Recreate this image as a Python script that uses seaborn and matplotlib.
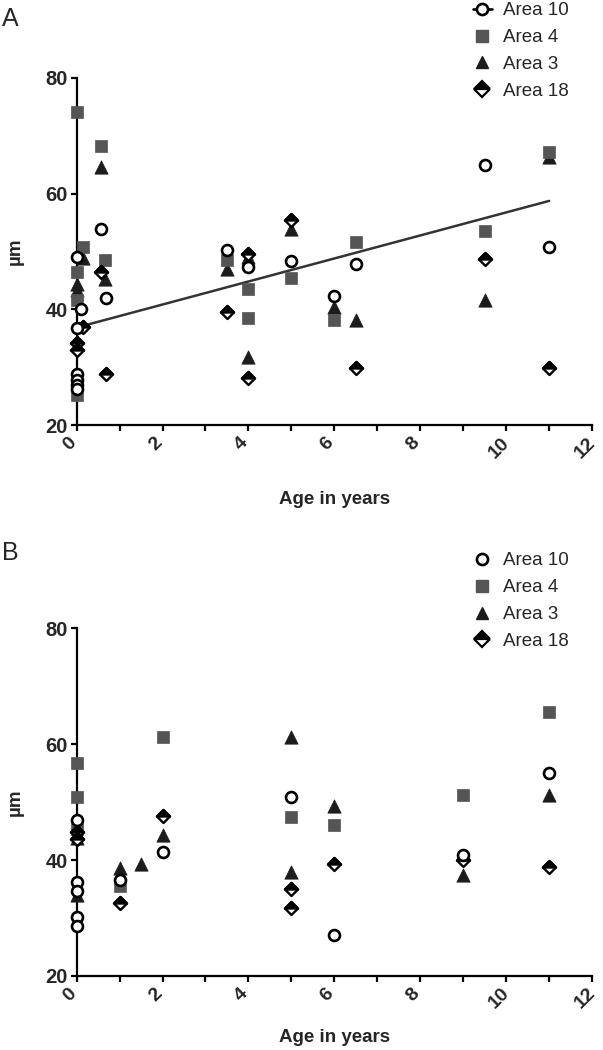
import numpy as np
import pandas as pd
import matplotlib
matplotlib.use("Agg")
import matplotlib.pyplot as plt
import matplotlib.transforms as mtransforms
from matplotlib.lines import Line2D
from matplotlib.path import Path
from matplotlib.ticker import MultipleLocator
import seaborn as sns

sns.set_theme(style="ticks")
plt.rcParams["font.family"] = ["Liberation Sans", "DejaVu Sans"]

# ---- Panel A values ----
a_area10_x = [0, 0.1, 0, 0, 0, 0, 0, 0.58, 0.68, 3.5, 4, 5, 6, 6.5, 9.5, 11]
a_area10_y = [49.0, 40.0, 36.8, 28.9, 27.8, 26.9, 26.2, 53.8, 41.9, 50.2, 47.3, 48.3, 42.3, 47.9, 65.0, 50.7]
a_area4_x = [0, 0.15, 0, 0, 0, 0.56, 0.66, 3.5, 4, 4, 5, 6, 6.5, 9.5, 11]
a_area4_y = [74.0, 50.7, 46.4, 41.6, 25.3, 68.2, 48.6, 48.6, 43.6, 38.6, 45.4, 38.2, 51.7, 53.6, 67.1]
a_area3_x = [0.15, 0, 0, 0.56, 0.66, 3.5, 4, 4, 5, 6, 6.5, 9.5, 11]
a_area3_y = [48.8, 44.4, 43.3, 64.5, 45.2, 47.0, 49.0, 31.8, 53.9, 40.4, 38.1, 41.6, 66.3]
a_area18_x = [0.15, 0, 0, 0.56, 0.68, 3.5, 4, 4, 5, 6.5, 9.5, 11]
a_area18_y = [37.0, 34.2, 33.0, 46.4, 28.8, 39.5, 49.6, 28.2, 55.5, 29.8, 48.7, 29.9]

# ---- Panel B values ----
b_area10_x = [0, 0, 0, 0, 0, 1, 2, 5, 6, 9, 11]
b_area10_y = [46.9, 36.2, 34.6, 30.2, 28.7, 36.6, 41.4, 50.9, 27.1, 40.9, 55.1]
b_area4_x = [0, 0, 0, 1, 2, 5, 6, 9, 11]
b_area4_y = [56.8, 50.9, 45.3, 35.5, 61.2, 47.5, 46.0, 51.2, 65.5]
b_area3_x = [0, 0, 0, 1, 1.5, 2, 5, 5, 6, 9, 11]
b_area3_y = [44.6, 43.8, 34.0, 38.6, 39.4, 44.3, 61.2, 38.0, 49.3, 37.4, 51.2]
b_area18_x = [0, 0, 1, 2, 5, 5, 6, 9, 11]
b_area18_y = [44.8, 43.6, 32.6, 47.6, 35.1, 31.8, 39.3, 40.0, 38.8]

AREAS = ["Area 10", "Area 4", "Area 3", "Area 18"]
X_TICKS = [0, 2, 4, 6, 8, 10, 12]
Y_TICKS = [20, 40, 60, 80]

SQUARE_GREY = "#555555"
TRI_BLACK = "#1c1c1c"
LINE_GREY = "#333333"

# diamond with white lower half: full outline + filled top half
DIAMOND = Path([(0, 1), (1, 0), (0, -1), (-1, 0), (0, 1)], closed=True)
DIAMOND_TOP = Path([(-1, 0), (0, 1), (1, 0), (-1, 0)], closed=True)


def draw_panel(ax, data, xlabel_y, fit_line=False):
    (x10, y10), (x4, y4), (x3, y3), (x18, y18) = data
    if fit_line:
        sns.regplot(x=np.array(x10), y=np.array(y10), ax=ax, scatter=False, ci=None,
                    truncate=True, line_kws=dict(color=LINE_GREY, lw=1.8, zorder=1))
    sns.scatterplot(x=x3, y=y3, ax=ax, marker="^", s=92, color=TRI_BLACK,
                    edgecolor=TRI_BLACK, linewidth=0.5, clip_on=False, zorder=3)
    sns.scatterplot(x=x4, y=y4, ax=ax, marker="s", s=84, color=SQUARE_GREY,
                    edgecolor=SQUARE_GREY, linewidth=0.5, clip_on=False, zorder=4)
    sns.scatterplot(x=x18, y=y18, ax=ax, marker=DIAMOND, s=88, color="white",
                    edgecolor="black", linewidth=1.7, clip_on=False, zorder=5)
    sns.scatterplot(x=x18, y=y18, ax=ax, marker=DIAMOND_TOP, s=88, color="black",
                    edgecolor="black", linewidth=1.7, clip_on=False, zorder=5)
    sns.scatterplot(x=x10, y=y10, ax=ax, marker="o", s=62, color="white",
                    edgecolor="black", linewidth=1.9, clip_on=False, zorder=6)

    ax.set_xlim(0, 12)
    ax.set_ylim(20, 80)
    ax.set_xticks(X_TICKS)
    ax.set_yticks(Y_TICKS)
    ax.xaxis.set_minor_locator(MultipleLocator(1))
    ax.set_xticklabels([str(t) for t in X_TICKS], rotation=45, ha="center",
                       fontweight="bold", fontsize=14)
    ax.set_yticklabels([str(t) for t in Y_TICKS], fontweight="bold", fontsize=14.5)
    ax.tick_params(which="both", direction="out", length=4.5, width=1.6, color="black", pad=2)
    for side in ["left", "bottom"]:
        ax.spines[side].set_linewidth(1.6)
        ax.spines[side].set_color("black")
    sns.despine(ax=ax)
    ax.set_xlabel("Age in years", fontsize=13.5, fontweight="bold")
    ax.set_ylabel("µm", fontsize=13.5, fontweight="bold")
    ax.xaxis.set_label_coords(0.5, xlabel_y)
    ax.yaxis.set_label_coords(-0.103, 0.5)


def shift_xticklabels(ax, dx_px):
    # nudge rotated x labels a little to the left, as in the original
    shift = mtransforms.ScaledTranslation(dx_px / 100, 0, ax.figure.dpi_scale_trans)
    for lbl in ax.xaxis.get_majorticklabels():
        lbl.set_transform(lbl.get_transform() + shift)


def legend_handles(with_line):
    h10 = Line2D([], [], color="black", marker="o", markersize=8.0, markerfacecolor="white",
                 markeredgecolor="black", markeredgewidth=1.9,
                 linestyle="-" if with_line else "none", lw=1.9)
    h4 = Line2D([], [], color=SQUARE_GREY, marker="s", markersize=8.6, linestyle="none")
    h3 = Line2D([], [], color=TRI_BLACK, marker="^", markersize=9.2, linestyle="none")
    h18 = Line2D([], [], color="black", marker="D", markersize=7.8, linestyle="none",
                 fillstyle="top", markerfacecoloralt="white", markeredgewidth=1.6)
    return [h10, h4, h3, h18]


fig = plt.figure(figsize=(6.03, 10.5), dpi=100)
ax_a = fig.add_axes([0.127, 0.595, 0.855, 0.331])
ax_b = fig.add_axes([0.127, 0.0705, 0.855, 0.331])

draw_panel(ax_a, [(a_area10_x, a_area10_y), (a_area4_x, a_area4_y),
                  (a_area3_x, a_area3_y), (a_area18_x, a_area18_y)], -0.19, fit_line=True)
draw_panel(ax_b, [(b_area10_x, b_area10_y), (b_area4_x, b_area4_y),
                  (b_area3_x, b_area3_y), (b_area18_x, b_area18_y)], -0.152)

for ax, top, line in [(ax_a, 0.998, True), (ax_b, 0.474, False)]:
    ax.legend(legend_handles(line), AREAS, loc="upper left",
              bbox_to_anchor=(473 / 603, top), bbox_transform=fig.transFigure,
              frameon=False, fontsize=13.5, handlelength=1.0, handletextpad=0.6,
              labelspacing=0.52, borderpad=0, borderaxespad=0)

fig.text(0.004, 1 - 19 / 1050, "A", fontsize=18, va="center", ha="left")
fig.text(0.004, 1 - 553 / 1050, "B", fontsize=18, va="center", ha="left")

fig.canvas.draw()
shift_xticklabels(ax_a, -7)
shift_xticklabels(ax_b, -7)

fig.savefig("out.png", dpi=100)
